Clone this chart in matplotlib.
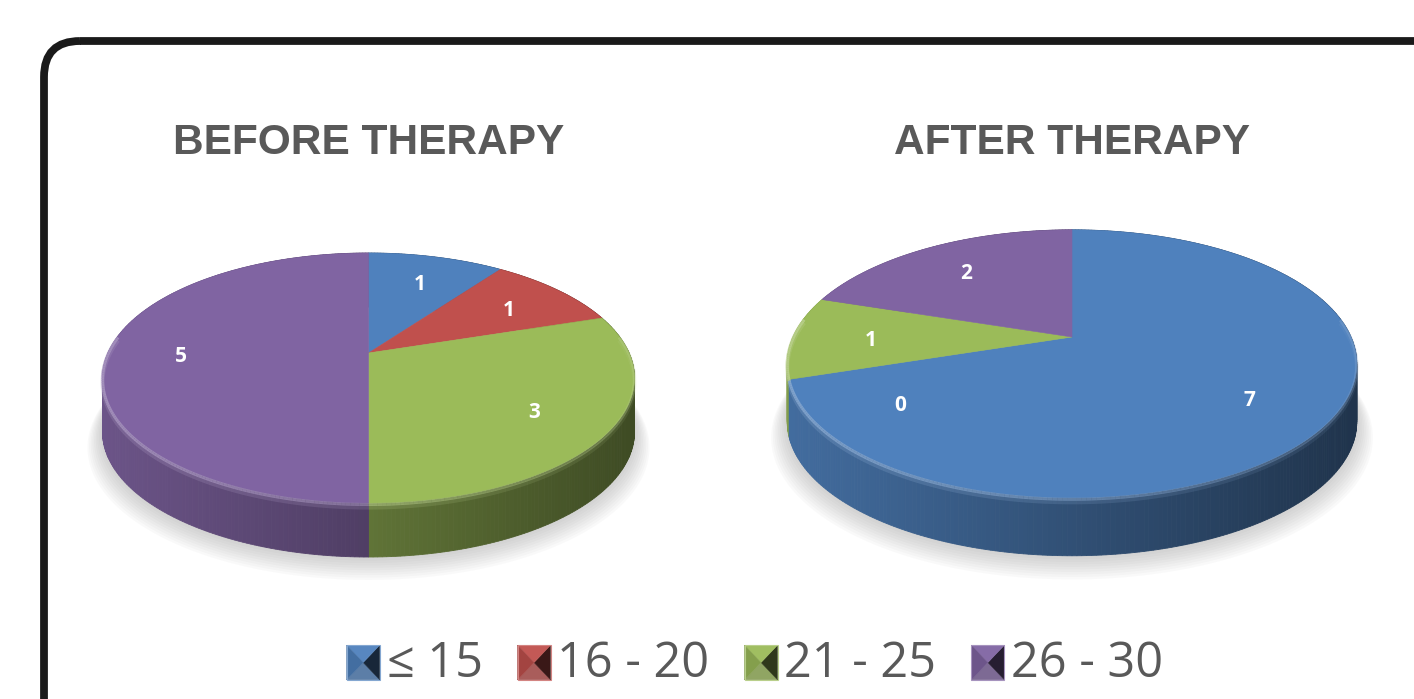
import numpy as np
import matplotlib
matplotlib.use("Agg")
import matplotlib.pyplot as plt
from matplotlib.patches import Polygon, FancyBboxPatch, Patch, Rectangle
from matplotlib.legend_handler import HandlerBase
from matplotlib.colors import to_rgb

# ---------------- data ----------------
categories = ["≤ 15", "16 - 20", "21 - 25", "26 - 30"]
before_values = [1, 1, 3, 5]
after_values = [7, 0, 1, 2]
titles = ["BEFORE THERAPY", "AFTER THERAPY"]
colors = ["#4F81BD", "#C0504D", "#9BBB59", "#8064A2"]

TEXT_GRAY = "#595959"
W, H = 1414, 699
fig = plt.figure(figsize=(W / 100, H / 100), dpi=100)
ax = fig.add_axes([0, 0, 1, 1])
ax.set_xlim(0, W)
ax.set_ylim(H, 0)
ax.axis("off")

# rounded frame (cut by the image edges at right and bottom)
ax.add_patch(FancyBboxPatch((44, 41), 1500, 800,
                            boxstyle="round,pad=0,rounding_size=36",
                            fill=False, lw=5.6, ec="#1a1a1a", zorder=1))


def mix(c, other, t):
    c = np.array(c); o = np.array(other)
    return tuple(np.clip(c * (1 - t) + o * t, 0, 1))


def draw_pie(values, cx, cy, b, a, k, depth, title):
    vals = np.array(values, dtype=float)
    fr = vals / vals.sum()
    starts = np.concatenate([[0], np.cumsum(fr)[:-1]]) * 360
    ends = starts + fr * 360

    def proj(theta, r=1.0, dz=0.0):
        t = np.radians(theta)
        x = r * np.sin(t)
        y = r * np.cos(t)
        d = 1 + k * y
        return cx + b * x / d, cy - a * y / d + dz

    # soft drop shadow
    th = np.linspace(0, 360, 361)
    for i in range(10):
        r = 1.0 + 0.006 * i
        xs, ys = proj(th, r, depth + 1 + 1.3 * i)
        ax.add_patch(Polygon(np.column_stack([xs, ys]), closed=True,
                             fc="#7a7a7a", ec="none", alpha=0.04, zorder=2))

    # side strips, far first
    strips = []
    for i, (s, e) in enumerate(zip(starts, ends)):
        if e - s <= 0:
            continue
        n = max(2, int(np.ceil((e - s) / 0.8)))
        angs = np.linspace(s, e, n + 1)
        base = np.array(to_rgb(colors[i]))
        for t0, t1 in zip(angs[:-1], angs[1:]):
            x0, y0 = proj(t0)
            x1, y1 = proj(t1)
            u = ((x0 + x1) / 2 - cx) / (b * 1.02)
            f = 0.62 - 0.22 * u
            col = tuple(np.clip(base * f, 0, 1))
            depth_key = np.cos(np.radians((t0 + t1) / 2))
            quad = [(x0, y0), (x1, y1), (x1, y1 + depth), (x0, y0 + depth)]
            strips.append((depth_key, quad, col, base, u, (x0, y0), (x1, y1)))
    strips.sort(key=lambda s: -s[0])
    for dk, quad, col, base, u, p0, p1 in strips:
        ax.add_patch(Polygon(quad, closed=True, fc=col, ec=col, lw=0.6, zorder=3))

    # top faces
    for i, (s, e) in enumerate(zip(starts, ends)):
        if e - s <= 0:
            continue
        angs = np.linspace(s, e, max(2, int(np.ceil((e - s) / 0.5))) + 1)
        xs, ys = proj(angs)
        verts = [(cx, cy)] + list(zip(xs, ys))
        ax.add_patch(Polygon(verts, closed=True, fc=colors[i], ec=colors[i],
                             lw=0.4, zorder=5))

    # rim highlight along the front edge
    for dk, quad, col, base, u, p0, p1 in strips:
        if dk < 0.15:
            alpha = float(np.clip(0.75 - 0.45 * (u + 1) / 2, 0.1, 0.9))
            hc = mix(base, (1, 1, 1), 0.35)
            ax.plot([p0[0], p1[0]], [p0[1] + 1.5, p1[1] + 1.5], color=hc,
                    lw=2.2, alpha=alpha, solid_capstyle="butt", zorder=6)
            ax.plot([p0[0], p1[0]], [p0[1] + 4.5, p1[1] + 4.5], color=hc,
                    lw=3, alpha=alpha * 0.35, solid_capstyle="butt", zorder=6)

    # data labels, with simple collision avoidance
    mids = (starts + ends) / 2
    order = sorted(range(len(vals)), key=lambda i: vals[i] == 0)
    placed = []
    for i in order:
        ang = mids[i]
        pos = proj(ang, 0.72)
        tries = 0
        while any(np.hypot(pos[0] - p[0], pos[1] - p[1]) < 70 for p in placed) and tries < 120:
            ang -= 1
            pos = proj(ang, 0.72)
            tries += 1
        placed.append(pos)
        ax.text(pos[0], pos[1] + 4, f"{int(vals[i])}", ha="center", va="center",
                color="white", fontsize=15, fontweight="bold",
                family=["Open Sans", "DejaVu Sans"], zorder=8)

    ax.text(cx, 143, title, ha="center", va="center", fontsize=30.5,
            fontweight="bold", color=TEXT_GRAY, family=["Liberation Sans", "DejaVu Sans"],
            zorder=8)


draw_pie(before_values, 368.5, 353, 260.6, 120.0, 0.2, 54, titles[0])
draw_pie(after_values, 1072, 337, 279.0, 128.6, 0.2, 58, titles[1])


class PyramidHandler(HandlerBase):
    def create_artists(self, legend, orig_handle, xdescent, ydescent,
                       width, height, fontsize, trans):
        base = np.array(to_rgb(orig_handle.get_facecolor()))
        x0, y0 = -xdescent, -ydescent - 0.08 * height
        xc, yc = x0 + width / 2, y0 + height / 2
        c = [(x0, y0), (x0 + width, y0), (x0 + width, y0 + height), (x0, y0 + height)]
        shades = [mix(base * 0.8, (1, 1, 1), 0.15),   # bottom
                  tuple(base * 0.3),                    # right
                  mix(base, (1, 1, 1), 0.05),           # top
                  tuple(base * 0.85)]                   # left
        arts = []
        for j in range(4):
            arts.append(Polygon([c[j], c[(j + 1) % 4], (xc, yc)], closed=True,
                                fc=shades[j], ec=shades[j], lw=0.3, transform=trans))
        arts.append(Rectangle((x0, y0), width, height, fill=False,
                              ec=mix(base, (1, 1, 1), 0.3), lw=0.8, transform=trans))
        return arts


handles = [Patch(facecolor=c, label=l) for c, l in zip(colors, categories)]
leg = ax.legend(handles=handles, loc="center", bbox_to_anchor=(755 / W, 1 - 664 / H),
                ncol=4, frameon=False, handlelength=0.68,
                handleheight=0.72, handletextpad=0.14, columnspacing=0.72,
                borderaxespad=0, borderpad=0,
                handler_map={Patch: PyramidHandler()},
                prop={"family": ["Open Sans", "DejaVu Sans"], "size": 35})
for t in leg.get_texts():
    t.set_color(TEXT_GRAY)

fig.savefig("out.png", dpi=100)
